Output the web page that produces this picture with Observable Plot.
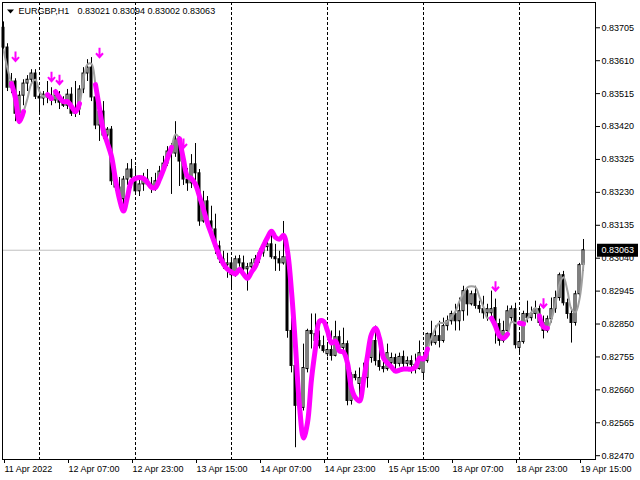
<!DOCTYPE html>
<html>
<head>
<meta charset="utf-8">
<script src="https://cdn.jsdelivr.net/npm/d3@7"></script>
<script src="https://cdn.jsdelivr.net/npm/@observablehq/plot@0.6"></script>
<style>
  html, body { margin: 0; padding: 0; background: #ffffff; }
</style>
</head>
<body>
<script>
// EURGBP H1 candles, one per hour, 11 Apr 15:00 .. 19 Apr 16:00 (bar index 0..145)
const opens = [
0.83705,0.83648,0.83532,0.83550,0.83457,0.83509,0.83544,0.83555,0.83573,0.83506,
0.83501,0.83512,0.83504,0.83495,0.83509,0.83489,0.83480,0.83512,0.83457,0.83469,
0.83527,0.83573,0.83590,0.83504,0.83423,0.83463,0.83394,0.83411,0.83262,0.83244,
0.83210,0.83267,0.83296,0.83273,0.83233,0.83253,0.83267,0.83253,0.83244,0.83262,
0.83290,0.83313,0.83348,0.83342,0.83383,0.83319,0.83267,0.83256,0.83311,0.83285,
0.83146,0.83204,0.83146,0.83123,0.83074,0.83037,0.83020,0.83025,0.82991,0.83037,
0.83025,0.83008,0.83014,0.83025,0.83037,0.83054,0.83072,0.83080,0.83043,0.83037,
0.83025,0.83043,0.82830,0.82729,0.82614,0.82608,0.82720,0.82830,0.82821,0.82801,
0.82786,0.82763,0.82775,0.82758,0.82812,0.82781,0.82792,0.82628,0.82703,0.82677,
0.82694,0.82694,0.82752,0.82801,0.82743,0.82726,0.82720,0.82737,0.82752,0.82735,
0.82755,0.82735,0.82743,0.82732,0.82720,0.82709,0.82743,0.82821,0.82795,0.82815,
0.82801,0.82844,0.82858,0.82879,0.82858,0.82887,0.82945,0.82907,0.82936,0.82902,
0.82893,0.82881,0.82881,0.82896,0.82850,0.82801,0.82830,0.82867,0.82893,0.82781,
0.82798,0.82879,0.82867,0.82879,0.82893,0.82853,0.82830,0.82864,0.82893,0.82925,
0.82991,0.82910,0.82879,0.82853,0.82936,0.83021];
const highs = [
0.83722,0.83659,0.83573,0.83558,0.83521,0.83555,0.83567,0.83584,0.83584,0.83527,
0.83521,0.83550,0.83532,0.83527,0.83521,0.83506,0.83527,0.83532,0.83550,0.83538,
0.83590,0.83613,0.83619,0.83538,0.83498,0.83492,0.83417,0.83420,0.83296,0.83273,
0.83276,0.83313,0.83325,0.83305,0.83276,0.83285,0.83296,0.83273,0.83285,0.83305,
0.83334,0.83362,0.83371,0.83434,0.83391,0.83342,0.83299,0.83339,0.83371,0.83296,
0.83233,0.83218,0.83190,0.83167,0.83089,0.83060,0.83054,0.83040,0.83046,0.83048,
0.83046,0.83025,0.83037,0.83048,0.83066,0.83089,0.83089,0.83112,0.83080,0.83060,
0.83146,0.83054,0.82887,0.82735,0.82657,0.82792,0.82835,0.82879,0.82879,0.82830,
0.82815,0.82795,0.82830,0.82858,0.82830,0.82838,0.82801,0.82709,0.82714,0.82723,
0.82737,0.82758,0.82815,0.82844,0.82778,0.82772,0.82792,0.82766,0.82763,0.82766,
0.82772,0.82755,0.82758,0.82763,0.82801,0.82763,0.82824,0.82858,0.82844,0.82858,
0.82867,0.82873,0.82887,0.82907,0.82925,0.82959,0.82951,0.82945,0.82959,0.82916,
0.82930,0.82907,0.82945,0.82922,0.82864,0.82858,0.82902,0.82902,0.82910,0.82824,
0.82887,0.82916,0.82899,0.82916,0.82902,0.82873,0.82873,0.82925,0.82945,0.82997,
0.83002,0.82922,0.82896,0.82945,0.83025,0.83094];
const lows = [
0.83636,0.83521,0.83515,0.83434,0.83440,0.83480,0.83521,0.83538,0.83498,0.83457,
0.83480,0.83486,0.83480,0.83486,0.83469,0.83475,0.83469,0.83449,0.83446,0.83452,
0.83515,0.83550,0.83492,0.83411,0.83377,0.83383,0.83371,0.83250,0.83233,0.83190,
0.83190,0.83250,0.83241,0.83227,0.83218,0.83233,0.83247,0.83227,0.83233,0.83256,
0.83282,0.83305,0.83224,0.83331,0.83247,0.83250,0.83233,0.83241,0.83262,0.83132,
0.83141,0.83132,0.83112,0.83051,0.83025,0.83008,0.82982,0.82953,0.82985,0.83014,
0.83002,0.82945,0.83002,0.83014,0.83025,0.83043,0.83060,0.83037,0.83002,0.83002,
0.83020,0.82809,0.82709,0.82493,0.82593,0.82599,0.82709,0.82778,0.82781,0.82778,
0.82766,0.82755,0.82743,0.82755,0.82772,0.82763,0.82614,0.82616,0.82686,0.82637,
0.82671,0.82665,0.82737,0.82729,0.82714,0.82709,0.82714,0.82726,0.82714,0.82726,
0.82723,0.82726,0.82706,0.82706,0.82717,0.82694,0.82737,0.82786,0.82789,0.82781,
0.82795,0.82830,0.82847,0.82830,0.82830,0.82858,0.82873,0.82902,0.82893,0.82881,
0.82864,0.82858,0.82864,0.82792,0.82786,0.82795,0.82824,0.82858,0.82778,0.82766,
0.82792,0.82853,0.82858,0.82864,0.82844,0.82807,0.82824,0.82853,0.82881,0.82916,
0.82902,0.82864,0.82795,0.82844,0.82928,0.83002];
const closes = [
0.83648,0.83532,0.83550,0.83457,0.83509,0.83544,0.83555,0.83573,0.83506,0.83501,
0.83512,0.83504,0.83495,0.83509,0.83489,0.83480,0.83512,0.83457,0.83469,0.83527,
0.83573,0.83590,0.83504,0.83423,0.83463,0.83394,0.83411,0.83262,0.83244,0.83210,
0.83267,0.83296,0.83273,0.83233,0.83253,0.83267,0.83253,0.83244,0.83262,0.83290,
0.83313,0.83348,0.83342,0.83383,0.83319,0.83267,0.83256,0.83311,0.83285,0.83146,
0.83204,0.83146,0.83123,0.83074,0.83037,0.83020,0.83025,0.82991,0.83037,0.83025,
0.83008,0.83014,0.83025,0.83037,0.83054,0.83072,0.83080,0.83043,0.83037,0.83025,
0.83043,0.82830,0.82729,0.82614,0.82628,0.82723,0.82830,0.82821,0.82801,0.82786,
0.82772,0.82775,0.82758,0.82812,0.82781,0.82792,0.82628,0.82703,0.82694,0.82694,
0.82686,0.82752,0.82801,0.82743,0.82726,0.82720,0.82766,0.82752,0.82735,0.82755,
0.82735,0.82743,0.82732,0.82720,0.82766,0.82743,0.82821,0.82795,0.82815,0.82801,
0.82844,0.82858,0.82879,0.82858,0.82887,0.82945,0.82907,0.82936,0.82902,0.82893,
0.82881,0.82893,0.82893,0.82850,0.82801,0.82830,0.82887,0.82893,0.82789,0.82798,
0.82879,0.82867,0.82879,0.82893,0.82853,0.82830,0.82864,0.82893,0.82925,0.82991,
0.82910,0.82879,0.82853,0.82936,0.83020,0.83063];
// smoothed indicator line (grey), one value per bar
const maLine = [
0.83642,0.83587,0.83544,0.83501,0.83434,0.83463,0.83501,0.83544,0.83555,0.83521,
0.83506,0.83512,0.83501,0.83521,0.83504,0.83492,0.83492,0.83478,0.83463,0.83486,
0.83558,0.83599,0.83601,0.83541,0.83472,0.83406,0.83371,0.83334,0.83267,0.83210,
0.83176,0.83218,0.83262,0.83270,0.83273,0.83270,0.83259,0.83244,0.83244,0.83267,
0.83296,0.83328,0.83360,0.83397,0.83385,0.83325,0.83276,0.83270,0.83253,0.83218,
0.83181,0.83141,0.83109,0.83077,0.83046,0.83023,0.83008,0.83000,0.82994,0.83008,
0.82994,0.82982,0.83000,0.83017,0.83051,0.83077,0.83100,0.83118,0.83100,0.83095,
0.83106,0.83060,0.82945,0.82786,0.82614,0.82521,0.82565,0.82691,0.82781,0.82858,
0.82858,0.82830,0.82795,0.82801,0.82772,0.82769,0.82737,0.82665,0.82637,0.82628,
0.82686,0.82758,0.82821,0.82838,0.82809,0.82752,0.82737,0.82726,0.82714,0.82717,
0.82720,0.82720,0.82720,0.82726,0.82752,0.82749,0.82778,0.82809,0.82838,0.82853,
0.82853,0.82858,0.82870,0.82887,0.82916,0.82939,0.82956,0.82959,0.82956,0.82928,
0.82899,0.82867,0.82867,0.82844,0.82815,0.82809,0.82821,0.82856,0.82853,0.82853,
0.82850,0.82867,0.82884,0.82896,0.82873,0.82841,0.82838,0.82864,0.82910,0.82965,
0.82985,0.82945,0.82893,0.82884,0.82922,0.83025];
// bar ranges where the indicator is painted magenta
const magentaRanges = [[2,5],[11,12],[13,19],[23,42],[44,106],[122,126],[129,130],[134,136]];
// down-arrow signals
const arrowBars = [3, 12, 14, 24, 45, 123, 135];
const arrowPrices = [0.83622, 0.83564, 0.83555, 0.83633, 0.83371, 0.82959, 0.82910];
// day separators (00:00 bars)
const sepBars = [9, 33, 57, 81, 105, 129];
// time axis
const xTickBars = [0, 16, 32, 48, 64, 80, 96, 112, 128, 144];
const xTickLabels = ["11 Apr 2022","12 Apr 07:00","12 Apr 23:00","13 Apr 15:00","14 Apr 07:00",
                     "14 Apr 23:00","15 Apr 15:00","18 Apr 07:00","18 Apr 23:00","19 Apr 15:00"];
// price axis
const yTicks = [0.82470,0.82565,0.82660,0.82755,0.82850,0.82945,0.83040,0.83135,
                0.83230,0.83325,0.83420,0.83515,0.83610,0.83705];
const symbolName = "EURGBP,H1";

const fmt = d3.format(".5f");
const bars = opens.map((o, i) => ({i, o, h: highs[i], l: lows[i], c: closes[i], ma: maLine[i]}));
const magentaData = magentaRanges.flatMap(([a, b], k) =>
  d3.range(a, b + 1).map(i => ({i, ma: maLine[i], seg: k})));
const arrows = arrowBars.map((b, k) => ({i: b, p: arrowPrices[k]}));
const last = bars[bars.length - 1];
const lastPrice = last.c;
const ohlcText = [last.o, last.h, last.l, last.c].map(fmt).join(" ");
const labelMap = new Map(xTickBars.map((b, k) => [b, xTickLabels[k]]));

const arrowSymbol = {
  draw(ctx) {
    ctx.moveTo(0, -5); ctx.lineTo(0, 4);
    ctx.moveTo(-3.5, 0.5); ctx.lineTo(0, 4.5); ctx.lineTo(3.5, 0.5);
  }
};
const triSymbol = {
  draw(ctx) {
    ctx.moveTo(-3.5, -2); ctx.lineTo(3.5, -2); ctx.lineTo(0, 2); ctx.closePath();
  }
};
const boxSymbol = {
  draw(ctx) {
    ctx.moveTo(-20.5, -6.5); ctx.lineTo(20.5, -6.5); ctx.lineTo(20.5, 6.5); ctx.lineTo(-20.5, 6.5); ctx.closePath();
  }
};

const chart = Plot.plot({
  width: 640,
  height: 480,
  marginLeft: 2,
  marginRight: 45,
  marginTop: 2,
  marginBottom: 21,
  x: {domain: [-0.25, 148], axis: null, label: null},
  y: {domain: [0.82459, 0.83778], axis: null, label: null},
  style: {fontFamily: "'Liberation Sans', Arial, sans-serif", fontSize: "9px", background: "#ffffff", color: "#000000"},
  marks: [
    Plot.ruleX(sepBars, {stroke: "#000000", strokeDasharray: "3,2"}),
    Plot.ruleY([lastPrice], {stroke: "#c0c0c0"}),
    Plot.ruleX(bars, {x: "i", y1: "l", y2: "h", stroke: "#000000"}),
    Plot.rect(bars, {
      x1: d => d.i - 0.25, x2: d => d.i + 0.25, y1: "o", y2: "c",
      fill: d => (d.c < d.o ? "black" : "white"), stroke: "#000000"
    }),
    Plot.line(bars, {x: "i", y: "ma", stroke: "#a0a0a0", strokeWidth: 2, curve: "catmull-rom"}),
    Plot.line(magentaData, {x: "i", y: "ma", z: "seg", stroke: "#ff00ff", strokeWidth: 5, curve: "catmull-rom"}),
    Plot.dot(arrows, {x: "i", y: "p", symbol: arrowSymbol, fill: "none", stroke: "#ff00ff", strokeWidth: 2}),
    Plot.frame({stroke: "#000000"}),
    Plot.axisY(yTicks, {anchor: "right", label: null, tickSize: 4, tickPadding: 2, tickFormat: fmt, fill: "#000000"}),
    Plot.axisX(xTickBars, {anchor: "bottom", label: null, tickSize: 4, tickPadding: 2, textAnchor: "start", dx: 1,
      tickFormat: d => labelMap.get(d), fill: "#000000"}),
    Plot.dot([0], {frameAnchor: "top-left", dx: 8, dy: 9, symbol: triSymbol, fill: "#000000", stroke: "none"}),
    Plot.text([symbolName], {frameAnchor: "top-left", dx: 16, dy: 9, textAnchor: "start", lineAnchor: "middle", fill: "#000000"}),
    Plot.text([ohlcText], {frameAnchor: "top-left", dx: 75, dy: 9, textAnchor: "start", lineAnchor: "middle", fill: "#000000"}),
    Plot.dot([lastPrice], {y: d => d, frameAnchor: "right", dx: 22, symbol: boxSymbol, fill: "#000000", stroke: "none"}),
    Plot.text([lastPrice], {y: d => d, frameAnchor: "right", dx: 6, textAnchor: "start", text: d => fmt(d), fill: "#ffffff"})
  ]
});
document.body.append(chart);
</script>
</body>
</html>
